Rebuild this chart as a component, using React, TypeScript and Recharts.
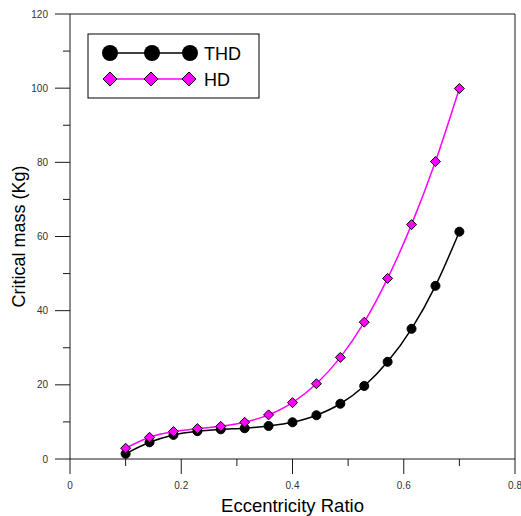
import React from "react"
import { LineChart, Line, XAxis, YAxis, ReferenceLine } from "recharts"

// eccentricity ratio samples and the two critical-mass curves (kg)
const ecc = [0.1, 0.143, 0.186, 0.229, 0.271, 0.314, 0.357, 0.4, 0.443, 0.486, 0.529, 0.571, 0.614, 0.657, 0.7]
const thd = [1.4, 4.5, 6.5, 7.5, 8.0, 8.3, 8.9, 9.9, 11.8, 14.9, 19.7, 26.2, 35.1, 46.7, 61.3]
const hd = [2.9, 5.85, 7.4, 8.2, 8.8, 9.9, 11.9, 15.2, 20.3, 27.4, 36.9, 48.7, 63.2, 80.2, 99.9]

const xTicks = [0, 0.1, 0.2, 0.3, 0.4, 0.5, 0.6, 0.7, 0.8]
const yTicks = [0, 10, 20, 30, 40, 50, 60, 70, 80, 90, 100, 110, 120]

const data = ecc.map((e, i) => ({ ecc: e, thd: thd[i], hd: hd[i] }))

const AXIS = "#1a1a1a"
const LABEL = "#333"
const MAGENTA = "#ff00ff"
const FONT = "Arial, Liberation Sans"

function XTick(props: any) {
  const { x, y, payload } = props
  const major = Math.round(payload.value * 10) % 2 === 0
  return (
    <g>
      <line x1={x} x2={x} y1={y} y2={y + (major ? 15 : 7)} stroke={AXIS} strokeWidth={1} />
      {major && (
        <text x={x} y={y + 30} textAnchor="middle" fontSize={10} fill={LABEL} fontFamily={FONT}>
          {payload.value}
        </text>
      )}
    </g>
  )
}

function YTick(props: any) {
  const { x, y, payload } = props
  const major = payload.value % 20 === 0
  return (
    <g>
      <line x1={x} x2={x - (major ? 15 : 7)} y1={y} y2={y} stroke={AXIS} strokeWidth={1} />
      {major && (
        <text x={x - 22} y={y + 3.5} textAnchor="end" fontSize={10} fill={LABEL} fontFamily={FONT}>
          {payload.value}
        </text>
      )}
    </g>
  )
}

function Diamond({ cx, cy, s = 5 }: any) {
  if (cx == null || cy == null) return null
  return (
    <polygon
      points={`${cx},${cy - s} ${cx + s},${cy} ${cx},${cy + s} ${cx - s},${cy}`}
      fill={MAGENTA}
      stroke="#000"
      strokeWidth={1}
    />
  )
}

function LegendBox() {
  return (
    <svg width={175} height={68} style={{ position: "absolute", left: 87, top: 33 }}>
      <rect x={1} y={1} width={171} height={64} fill="#fff" stroke="#000" strokeWidth={1} />
      <line x1={23} x2={103} y1={20} y2={20} stroke="#000" strokeWidth={1.5} />
      {[23, 65, 103].map((cx) => (
        <circle key={cx} cx={cx} cy={20} r={8} fill="#000" />
      ))}
      <text x={117} y={26.5} fontSize={18} fontFamily={FONT} fill="#000">THD</text>
      <line x1={23} x2={103} y1={46} y2={46} stroke={MAGENTA} strokeWidth={1.5} />
      {[23, 64, 102].map((cx) => (
        <Diamond key={cx} cx={cx} cy={46} s={7} />
      ))}
      <text x={117} y={52.5} fontSize={18} fontFamily={FONT} fill="#000">HD</text>
    </svg>
  )
}

export default function App() {
  return (
    <div style={{ position: "absolute", left: 0, top: 0, width: 521, height: 516, background: "#fff" }}>
      <LineChart width={521} height={516} data={data} margin={{ top: 14, right: 6, left: 0, bottom: 0 }}>
        <XAxis
          dataKey="ecc"
          type="number"
          domain={[0, 0.8]}
          ticks={xTicks}
          interval={0}
          height={57}
          tickSize={0}
          tickMargin={0}
          tickLine={false}
          axisLine={{ stroke: AXIS }}
          tick={<XTick />}
          label={{ value: "Eccentricity Ratio", position: "insideBottom", offset: 4, fontSize: 18.5, fill: "#000", fontFamily: FONT }}
        />
        <YAxis
          type="number"
          domain={[0, 120]}
          ticks={yTicks}
          interval={0}
          width={70}
          tickSize={0}
          tickMargin={0}
          tickLine={false}
          axisLine={{ stroke: AXIS }}
          tick={<YTick />}
          label={{ value: "Critical mass (Kg)", angle: -90, position: "insideLeft", offset: 19, fontSize: 18, fill: "#000", fontFamily: FONT, style: { textAnchor: "middle" } }}
        />
        <ReferenceLine y={120} stroke={AXIS} />
        <ReferenceLine x={0.8} stroke={AXIS} />
        <Line
          type="monotone"
          dataKey="thd"
          stroke="#000"
          strokeWidth={1.5}
          dot={{ r: 4.5, fill: "#000", stroke: "#000", strokeWidth: 1 }}
          isAnimationActive={false}
        />
        <Line
          type="monotone"
          dataKey="hd"
          stroke={MAGENTA}
          strokeWidth={1.5}
          dot={(p: any) => <Diamond key={p.index} cx={p.cx} cy={p.cy} s={5} />}
          isAnimationActive={false}
        />
      </LineChart>
      <LegendBox />
    </div>
  )
}
